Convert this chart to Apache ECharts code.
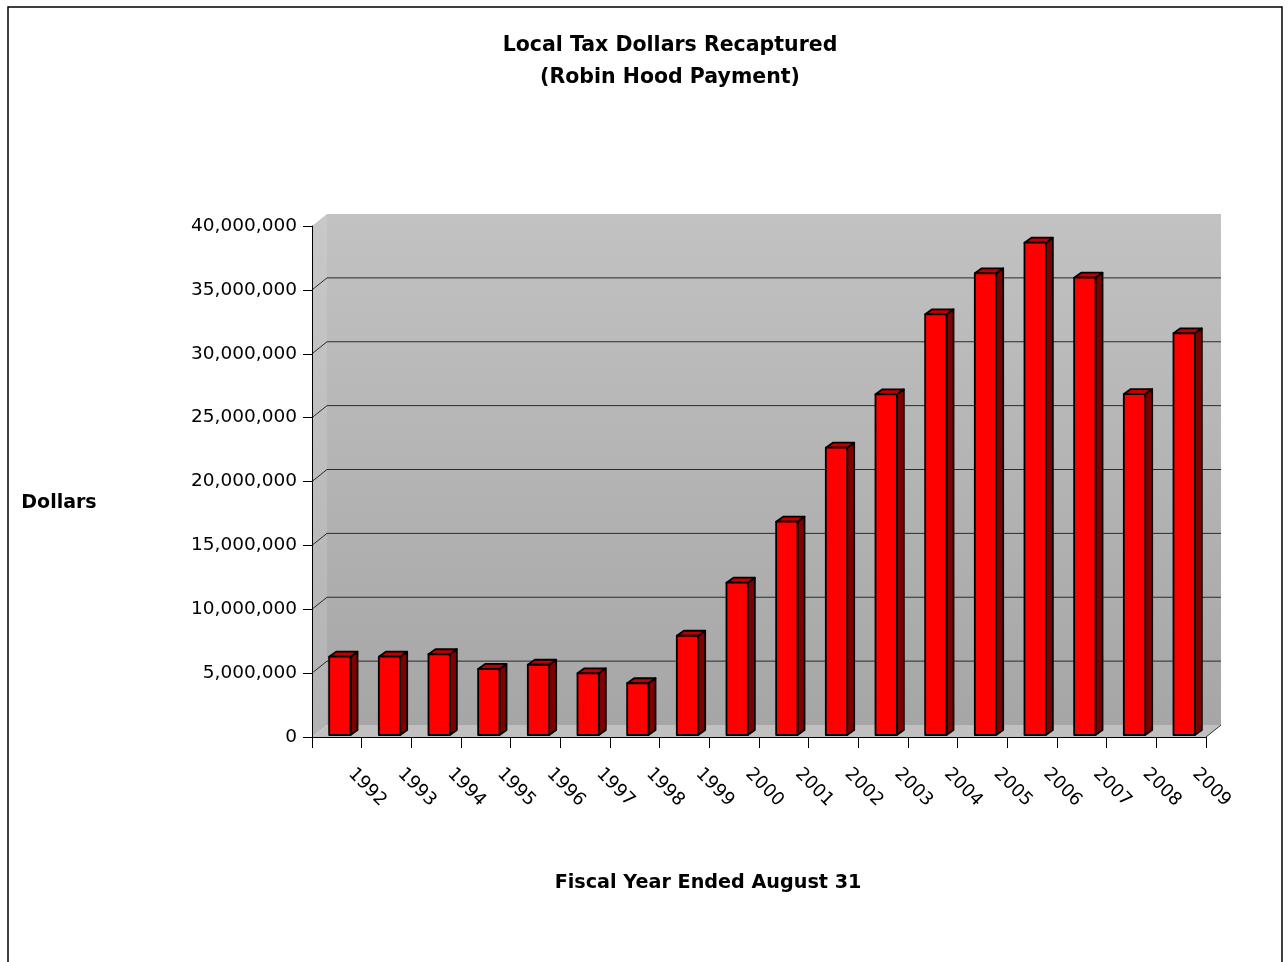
<!DOCTYPE html>
<html>
<head>
<meta charset="utf-8">
<script src="https://cdn.jsdelivr.net/npm/echarts@6/dist/echarts.min.js"></script>
<style>
  html, body { margin: 0; padding: 0; background: #fff; }
  #chart { width: 1288px; height: 962px; }
</style>
</head>
<body>
<div id="chart"></div>
<script>
// ---- data ----
const years = ['1992','1993','1994','1995','1996','1997','1998','1999','2000',
               '2001','2002','2003','2004','2005','2006','2007','2008','2009'];
const recaptured = [6130000, 6130000, 6320000, 5170000, 5500000, 4830000, 4050000,
                    7770000, 11920000, 16700000, 22490000, 26670000, 32930000,
                    36140000, 38540000, 35800000, 26690000, 31440000];
const yTickValues = [0, 5000000, 10000000, 15000000, 20000000, 25000000, 30000000, 35000000, 40000000];
const titleLines = ['Local Tax Dollars Recaptured', '(Robin Hood Payment)'];
const yAxisTitle = 'Dollars';
const xAxisTitle = 'Fiscal Year Ended August 31';

// ---- style constants ----
const FONT = '"DejaVu Sans", sans-serif';
const WALL_DX = 15, WALL_DY = 12;   // depth of the 3D box
const BAR_OX = 3, BAR_OY = -2;      // bar front face offset into depth
const BAR_DX = 7, BAR_DY = 5;       // bar depth
const BAR_FRAC = 0.43;

const chart = echarts.init(document.getElementById('chart'), null, { renderer: 'canvas' });

function fmt(v) { return String(v).replace(/\B(?=(\d{3})+(?!\d))/g, ','); }

const barData = recaptured.map((v, i) => [i, v]);

const option = {
  animation: false,
  backgroundColor: '#ffffff',
  grid: { left: 312, top: 226, width: 894, height: 511, containLabel: false },
  xAxis: {
    type: 'category',
    data: years,
    boundaryGap: true,
    axisLine: { show: true, lineStyle: { color: '#000', width: 1 } },
    axisTick: { show: true, length: 11, lineStyle: { color: '#000', width: 1 } },
    axisLabel: {
      interval: 0, rotate: -45, margin: 20, padding: [0, 0, 0, 20],
      fontFamily: FONT, fontSize: 18, color: '#000'
    },
    splitLine: { show: false }
  },
  yAxis: {
    type: 'value',
    min: yTickValues[0],
    max: yTickValues[yTickValues.length - 1],
    interval: yTickValues[1] - yTickValues[0],
    axisLine: { show: true, lineStyle: { color: '#000', width: 1 } },
    axisTick: { show: true, length: 9, lineStyle: { color: '#000', width: 1 } },
    axisLabel: { margin: 15, fontFamily: FONT, fontSize: 18.5, color: '#000', formatter: fmt },
    splitLine: { show: false }
  },
  graphic: [
    { type: 'rect', shape: { x: 8, y: 7, width: 1274, height: 980 },
      style: { fill: 'none', stroke: '#000', lineWidth: 1.5 }, z: 100 },
    { type: 'text', x: 670, y: 46,
      style: { text: titleLines[0], fontFamily: FONT, fontWeight: 'bold', fontSize: 20.5,
               fill: '#000', textAlign: 'center', textVerticalAlign: 'middle' } },
    { type: 'text', x: 670, y: 78,
      style: { text: titleLines[1], fontFamily: FONT, fontWeight: 'bold', fontSize: 20.5,
               fill: '#000', textAlign: 'center', textVerticalAlign: 'middle' } },
    { type: 'text', x: 59, y: 503,
      style: { text: yAxisTitle, fontFamily: FONT, fontWeight: 'bold', fontSize: 19,
               fill: '#000', textAlign: 'center', textVerticalAlign: 'middle' } },
    { type: 'text', x: 708, y: 883,
      style: { text: xAxisTitle, fontFamily: FONT, fontWeight: 'bold', fontSize: 19.2,
               fill: '#000', textAlign: 'center', textVerticalAlign: 'middle' } }
  ],
  series: [
    {
      type: 'custom',
      name: 'walls',
      z: 0,
      silent: true,
      data: [[0, 0]],
      encode: { x: 0, y: 1 },
      renderItem: function (params, api) {
        const cs = params.coordSys;
        const x = cs.x, y = cs.y, w = cs.width, h = cs.height;
        const children = [];
        children.push({
          type: 'rect',
          shape: { x: x + WALL_DX, y: y - WALL_DY, width: w, height: h },
          style: { fill: new echarts.graphic.LinearGradient(0, 0, 0, 1, [
            { offset: 0, color: '#c2c2c2' }, { offset: 1, color: '#a6a6a6' }]) }
        });
        children.push({
          type: 'polygon',
          shape: { points: [[x, y], [x + WALL_DX, y - WALL_DY], [x + WALL_DX, y + h - WALL_DY], [x, y + h]] },
          style: { fill: new echarts.graphic.LinearGradient(0, 0, 0, 1, [
            { offset: 0, color: '#c8c8c8' }, { offset: 1, color: '#b2b2b2' }]) }
        });
        children.push({
          type: 'polygon',
          shape: { points: [[x, y + h], [x + WALL_DX, y + h - WALL_DY], [x + w + WALL_DX, y + h - WALL_DY], [x + w, y + h]] },
          style: { fill: '#c0c0c0' }
        });
        children.push({
          type: 'line',
          shape: { x1: x + w, y1: y + h, x2: x + w + WALL_DX, y2: y + h - WALL_DY },
          style: { stroke: '#333', lineWidth: 1 }
        });
        for (let k = 1; k < yTickValues.length - 1; k++) {
          const py = api.coord([0, yTickValues[k]])[1];
          children.push({
            type: 'polyline',
            shape: { points: [[x, py], [x + WALL_DX, py - WALL_DY], [x + w + WALL_DX, py - WALL_DY]] },
            style: { stroke: '#2a2a2a', lineWidth: 1, fill: null }
          });
        }
        return { type: 'group', children: children };
      }
    },
    {
      type: 'custom',
      name: 'Recaptured',
      z: 3,
      data: barData,
      encode: { x: 0, y: 1 },
      renderItem: function (params, api) {
        const i = api.value(0), v = api.value(1);
        const base = api.coord([i, 0]);
        const top = api.coord([i, v]);
        const band = api.size([1, 0])[0];
        const bw = band * BAR_FRAC;
        const xl = base[0] - bw / 2 + BAR_OX, xr = xl + bw;
        const yb = base[1] + BAR_OY, yt = top[1] + BAR_OY;
        const stroke = { stroke: '#000', lineWidth: 1.8, lineJoin: 'round' };
        return {
          type: 'group',
          children: [
            { type: 'polygon',
              shape: { points: [[xr, yt], [xr + BAR_DX, yt - BAR_DY], [xr + BAR_DX, yb - BAR_DY], [xr, yb]] },
              style: Object.assign({ fill: '#800000' }, stroke) },
            { type: 'polygon',
              shape: { points: [[xl, yt], [xl + BAR_DX, yt - BAR_DY], [xr + BAR_DX, yt - BAR_DY], [xr, yt]] },
              style: Object.assign({ fill: '#c00000' }, stroke) },
            { type: 'rect',
              shape: { x: xl, y: yt, width: bw, height: yb - yt },
              style: Object.assign({ fill: '#ff0000' }, stroke) }
          ]
        };
      }
    }
  ]
};

chart.setOption(option);
</script>
</body>
</html>
